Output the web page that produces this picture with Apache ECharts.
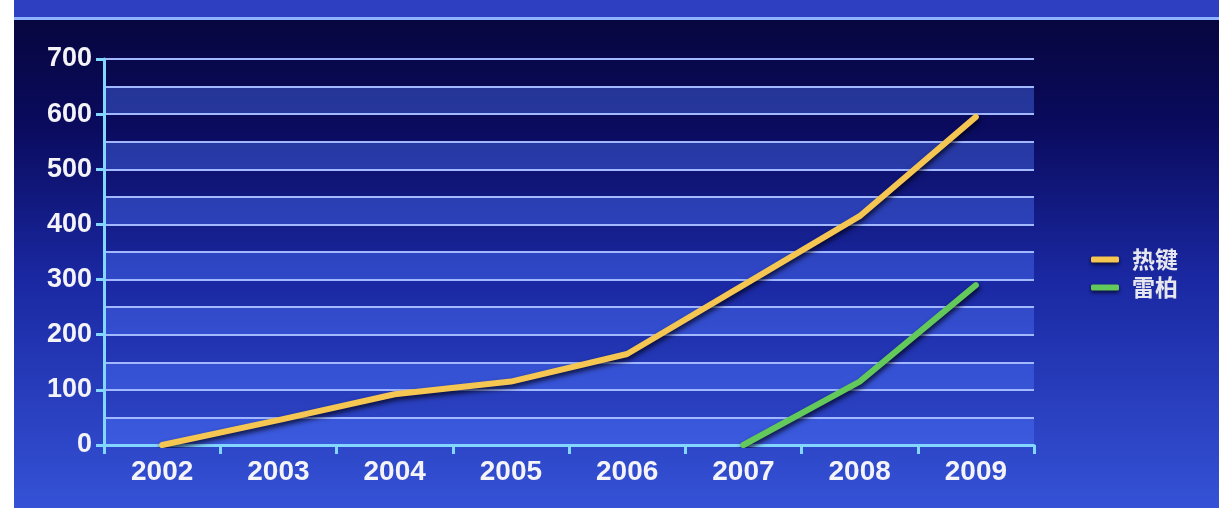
<!DOCTYPE html>
<html>
<head>
<meta charset="utf-8">
<script src="https://cdn.jsdelivr.net/npm/echarts@6/dist/echarts.min.js"></script>
<style>
  html, body { margin: 0; padding: 0; background: #ffffff; }
  #chart { width: 1219px; height: 515px; }
</style>
</head>
<body>
<div id="chart"></div>
<script>
// Years on the category axis
const years = ['2002', '2003', '2004', '2005', '2006', '2007', '2008', '2009'];
// Series values per year (null = no data yet)
const rejian = [0, 45, 92, 115, 165, 290, 415, 595];
const leibo = [null, null, null, null, null, 0, 115, 290];
// Series names shown in the legend
const seriesNames = ['热键', '雷柏'];
// Value axis range
const yMin = 0, yMax = 700, yLabelStep = 100, yBandStep = 50;

const chart = echarts.init(document.getElementById('chart'), null, { renderer: 'canvas' });

const labelFont = {
  color: '#f4f4f8',
  fontFamily: 'Liberation Sans, Arial, sans-serif',
  fontWeight: 'bold'
};

const lineShadow = {
  shadowColor: 'rgba(0,0,20,0.8)',
  shadowBlur: 5,
  shadowOffsetX: 1,
  shadowOffsetY: 3
};

chart.setOption({
  backgroundColor: '#ffffff',
  animation: false,
  graphic: [
    {
      type: 'rect', z: -10, silent: true,
      shape: { x: 14, y: 0, width: 1205, height: 508 },
      style: {
        fill: {
          type: 'linear', x: 0, y: 0, x2: 0, y2: 1,
          colorStops: [
            { offset: 0, color: '#06053a' },
            { offset: 0.25, color: '#0a0b5e' },
            { offset: 0.55, color: '#1a28a2' },
            { offset: 1, color: '#3552d6' }
          ]
        }
      }
    },
    {
      type: 'rect', z: -9, silent: true,
      shape: { x: 14, y: 0, width: 1205, height: 17 },
      style: { fill: '#2e3fc2' }
    },
    {
      type: 'rect', z: -9, silent: true,
      shape: { x: 14, y: 17, width: 1205, height: 3 },
      style: { fill: '#8fb2ff' }
    }
  ],
  legend: {
    orient: 'vertical',
    left: 1086,
    top: 243,
    itemWidth: 28,
    itemHeight: 6,
    itemGap: 5,
    icon: 'roundRect',
    data: seriesNames,
    textStyle: {
      color: '#e6e6ee',
      fontFamily: 'Noto Sans CJK SC, sans-serif',
      fontWeight: 'bold',
      fontSize: 23,
      padding: [4, 0, 0, 8]
    },
    itemStyle: { shadowColor: 'rgba(0,0,20,0.8)', shadowBlur: 4, shadowOffsetY: 2 }
  },
  grid: { left: 104, right: 185, top: 59, bottom: 70 },
  xAxis: {
    type: 'category',
    data: years,
    boundaryGap: true,
    axisLine: { lineStyle: { color: '#82d6ff', width: 3 } },
    axisTick: { show: true, length: 9, lineStyle: { color: '#82d6ff', width: 3 } },
    axisLabel: Object.assign({ margin: 13, fontSize: 28 }, labelFont),
    splitLine: { show: false }
  },
  yAxis: [
    {
      type: 'value',
      min: yMin, max: yMax, interval: yBandStep,
      axisLine: { show: false },
      axisTick: { show: false },
      axisLabel: { show: false },
      splitLine: { show: true, lineStyle: { color: '#a2b8ff', width: 2 } },
      splitArea: {
        show: true,
        areaStyle: { color: ['rgba(80,120,255,0.4)', 'rgba(0,0,0,0)'] }
      }
    },
    {
      type: 'value',
      position: 'left',
      min: yMin, max: yMax, interval: yLabelStep,
      axisLine: { show: true, lineStyle: { color: '#82d6ff', width: 3 } },
      axisTick: { show: true, length: 8, lineStyle: { color: '#82d6ff', width: 3 } },
      axisLabel: Object.assign({ margin: 12, fontSize: 27 }, labelFont),
      splitLine: { show: false },
      splitArea: { show: false }
    }
  ],
  series: [
    {
      name: seriesNames[0],
      type: 'line',
      data: rejian,
      yAxisIndex: 0,
      symbol: 'none',
      smooth: false,
      color: '#f5c752',
      lineStyle: Object.assign({ color: '#f5c752', width: 6, cap: 'round', join: 'round' }, lineShadow),
      z: 5
    },
    {
      name: seriesNames[1],
      type: 'line',
      data: leibo,
      yAxisIndex: 0,
      symbol: 'none',
      connectNulls: false,
      color: '#62c95a',
      lineStyle: Object.assign({ color: '#62c95a', width: 6, cap: 'round', join: 'round' }, lineShadow),
      z: 5
    }
  ]
});
</script>
</body>
</html>
